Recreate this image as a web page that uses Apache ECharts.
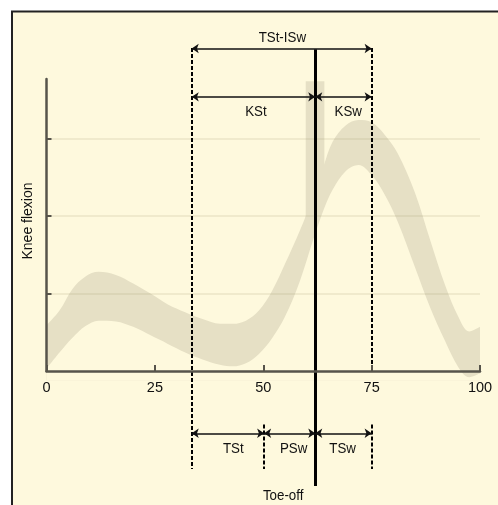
<!DOCTYPE html>
<html><head><meta charset="utf-8">
<script src="https://cdn.jsdelivr.net/npm/echarts@6/dist/echarts.min.js"></script>
<style>html,body{margin:0;padding:0;background:#fff}#c{width:498px;height:505px}</style>
</head><body><div id="c"></div>
<script>
// ---- data ----
const gaitPct   = [0, 3, 6, 9, 12, 16, 20, 24, 28, 32, 36, 40, 43, 46, 49, 52, 55, 58.5, 61.5, 64, 66, 69, 72, 75, 78, 81, 85, 88.5, 92, 95, 97.5, 100];
const flexUpper = [0.59, 0.78, 1.06, 1.22, 1.28, 1.24, 1.13, 1.0, 0.86, 0.76, 0.67, 0.61, 0.61, 0.65, 0.78, 1.03, 1.38, 1.82, 2.25, 2.66, 2.96, 3.17, 3.24, 3.21, 3.05, 2.81, 2.30, 1.69, 1.10, 0.70, 0.51, 0.57];
const flexLower = [0.03, 0.24, 0.43, 0.58, 0.65, 0.64, 0.57, 0.46, 0.35, 0.24, 0.15, 0.08, 0.06, 0.10, 0.22, 0.42, 0.70, 1.17, 1.69, 2.09, 2.34, 2.58, 2.66, 2.53, 2.28, 1.93, 1.34, 0.82, 0.38, 0.05, -0.08, -0.03];
const xTickValues = [0, 25, 50, 75, 100];
const yGridValues = [1, 2, 3];
const toeOffRange = [59.8, 64.1];
const phaseBounds = [33.5, 50.2, 62, 75]; // TSt start, PSw start, toe-off, swing end
const topLabels = ['TSt-ISw', 'KSt', 'KSw'];
const bottomLabels = ['TSt', 'PSw', 'TSw'];
const eventLabel = 'Toe-off';
const yAxisTitle = 'Knee flexion';

// ---- chart ----
const BG = '#fef9dd', BAND = '#e6e0c5', AX = '#57544b';
const FONT = '"Liberation Sans",Arial,sans-serif';
const [b0, b1, b2, b3] = phaseBounds;
const yTop = 4.164, yMid = 3.54, yBot = -0.804, yLow = -1.265, yCut = -0.69;

const upperData = gaitPct.map((x, i) => [x, flexUpper[i]]);
const lowerData = gaitPct.map((x, i) => [x, flexLower[i]]);

const labelItems = [
  [54.4, 4.306, topLabels[0]],
  [48.3, 3.342, topLabels[1]],
  [69.6, 3.342, topLabels[2]],
  [43.1, -1.0, bottomLabels[0]],
  [57.0, -1.0, bottomLabels[1]],
  [68.3, -1.0, bottomLabels[2]],
  [54.6, -1.613, eventLabel]
];

const chart = echarts.init(document.getElementById('c'), null, {renderer: 'canvas'});
chart.setOption({
  backgroundColor: '#ffffff',
  animation: false,
  graphic: [
    {type: 'rect', z: -10, shape: {x: 12, y: 11, width: 486, height: 494}, style: {fill: BG}},
    {type: 'polyline', z: 100, shape: {points: [[12, 505], [12, 11.5], [498, 11.5]]}, style: {stroke: '#222', lineWidth: 2, fill: null}}
  ],
  grid: {left: 46.5, right: 18, top: 79, bottom: 134, containLabel: false},
  xAxis: {
    type: 'value', min: 0, max: 100, interval: 25, z: 10,
    axisLine: {show: true, lineStyle: {color: AX, width: 2.5}},
    axisTick: {show: true, inside: true, length: 6, lineStyle: {color: AX, width: 2}},
    axisLabel: {show: true, margin: 9, color: '#111', fontSize: 14.5, fontFamily: FONT},
    splitLine: {show: false}
  },
  yAxis: {
    type: 'value', min: 0, max: 3.77, z: 10,
    name: yAxisTitle, nameLocation: 'middle', nameRotate: 90, nameGap: 11,
    nameTextStyle: {color: '#111', fontSize: 14, fontFamily: FONT, padding: [0, 0, 0, 8]},
    axisLine: {show: true, lineStyle: {color: AX, width: 2.5}},
    axisTick: {show: true, inside: true, length: 5, customValues: yGridValues, lineStyle: {color: AX, width: 2}},
    axisLabel: {show: false},
    splitLine: {show: false}
  },
  series: [
    {
      type: 'line', data: upperData, smooth: 0.35, symbol: 'none', clip: false, z: 2,
      lineStyle: {opacity: 0}, areaStyle: {color: BAND, opacity: 1, origin: -0.12}
    },
    {
      type: 'line', data: lowerData, smooth: 0.35, symbol: 'none', clip: false, z: 2,
      lineStyle: {opacity: 0}, areaStyle: {color: BG, opacity: 1, origin: -0.12}
    },
    {
      type: 'line', data: [], z: 3, symbol: 'none',
      markArea: {silent: true, itemStyle: {color: BAND}, data: [[{xAxis: toeOffRange[0], yAxis: 0}, {xAxis: toeOffRange[1], yAxis: 3.74}]]},
      markLine: {
        silent: true, symbol: 'none', label: {show: false},
        lineStyle: {color: 'rgba(150,140,90,0.13)', width: 2, type: 'solid'},
        data: yGridValues.map(v => ({yAxis: v}))
      }
    },
    {
      type: 'lines', coordinateSystem: 'cartesian2d', clip: false, z: 5,
      symbol: 'none',
      lineStyle: {color: '#000', width: 2, type: [4, 2], opacity: 1},
      data: [
        {coords: [[b0, 4.17], [b0, yLow]]},
        {coords: [[b3, 4.17], [b3, 0]]},
        {coords: [[b3, yCut], [b3, yLow]]},
        {coords: [[b1, yCut], [b1, yLow]]}
      ]
    },
    {
      type: 'lines', coordinateSystem: 'cartesian2d', clip: false, z: 6,
      symbol: 'none',
      lineStyle: {color: '#000', width: 3, type: 'solid', opacity: 1},
      data: [{coords: [[b2, 4.155], [b2, -1.484]]}]
    },
    {
      type: 'lines', coordinateSystem: 'cartesian2d', clip: false, z: 7,
      symbol: ['arrow', 'arrow'], symbolSize: 7,
      lineStyle: {color: '#111', width: 1.5, type: 'solid', opacity: 1},
      data: [
        {coords: [[b0, yTop], [b3, yTop]]},
        {coords: [[b0, yMid], [b2, yMid]]},
        {coords: [[b2, yMid], [b3, yMid]]},
        {coords: [[b0, yBot], [b1, yBot]]},
        {coords: [[b1, yBot], [b2, yBot]]},
        {coords: [[b2, yBot], [b3, yBot]]}
      ]
    },
    {
      type: 'custom', coordinateSystem: 'cartesian2d', clip: false, z: 8,
      data: labelItems,
      renderItem: function (params, api) {
        const p = api.coord([api.value(0), api.value(1)]);
        return {
          type: 'text', x: p[0], y: p[1], scaleX: 0.86,
          style: {text: labelItems[params.dataIndex][2], fill: '#111', font: '15.5px ' + FONT, align: 'center', verticalAlign: 'middle'}
        };
      }
    }
  ]
});
</script></body></html>
